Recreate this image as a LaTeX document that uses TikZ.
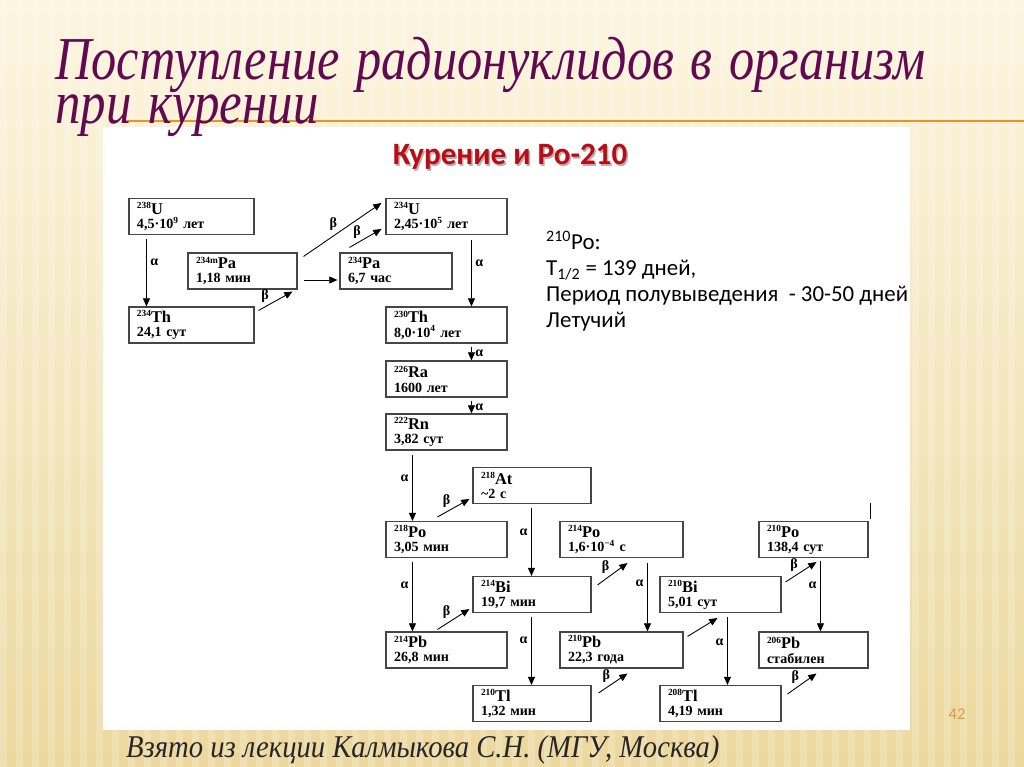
\documentclass[tikz,border=0pt]{standalone}
\usepackage{fontspec}
\setmainfont{Liberation Serif}
\newfontfamily\carlito{Carlito}
\usetikzlibrary{arrows.meta,calc}
\definecolor{titlepurple}{RGB}{98,10,80}
\definecolor{rulegold}{RGB}{228,150,42}
\definecolor{headred}{RGB}{190,10,20}
\definecolor{pagegold}{RGB}{222,150,70}
\definecolor{boxgray}{RGB}{70,70,70}
\definecolor{creamtop}{RGB}{252,245,224}
\definecolor{creambot}{RGB}{236,216,158}
\newcommand\nuc[3]{\raisebox{.42em}{\fontsize{8pt}{8pt}\selectfont #1}{\fontsize{14pt}{12pt}\selectfont #2}\\#3}

\begin{document}
\begin{tikzpicture}[x=0.03cm,y=-0.03cm,
 nucbox/.style={draw=boxgray,line width=0.9pt,minimum height=1.08cm,text width=#1,align=left,inner xsep=0.24cm,inner ysep=1pt,font=\fontsize{12pt}{12pt}\selectfont\bfseries},
 decay/.style={-{Triangle[length=7pt,width=6pt]},line width=0.75pt},
 al/.style={font=\fontsize{12pt}{12pt}\selectfont\bfseries,inner sep=3pt},
 bl/.style={above left,font=\fontsize{12pt}{12pt}\selectfont\bfseries,inner sep=1pt,pos=.45},
 infotext/.style={anchor=base west,inner sep=0pt,font=\carlito\fontsize{19.5pt}{23pt}\selectfont}]
\useasboundingbox (0,0) rectangle (1024,767);
\shade[top color=creamtop,bottom color=creambot] (0,0) rectangle (1024,767);
\foreach \x in {0,16,...,1020} \fill[white,opacity=.2] (\x,0) rectangle ++(7,767);
\fill[white] (103,127) rectangle (910,730);
\draw[rulegold,line width=2.5pt] (125,121) -- (1024,121);

\node[anchor=base west,inner sep=0pt,text width=27cm,align=left,text=titlepurple,font=\itshape\fontsize{52pt}{29.8pt}\selectfont] (title) at (55,80) {\lineskiplimit=-60pt\relax\resizebox{26.1cm}{\height}{Поступление радионуклидов в организм}\\\resizebox{7.9cm}{\height}{при курении}};

\node[anchor=base,text=black,opacity=.3,font=\carlito\bfseries\fontsize{26.5pt}{27pt}\selectfont] (heads) at (511.5,166.5) {Курение и Ро-210};
\node[anchor=base,text=headred,font=\carlito\bfseries\fontsize{26.5pt}{27pt}\selectfont] (head) at (510,165) {Курение и Ро-210};

\node[infotext] (info1) at (546,250) {\textsuperscript{210}Po:};
\node[infotext] (info2) at (546,276) {T\textsubscript{1/2} = 139 дней,};
\node[infotext] (info3) at (546,302) {Период полувыведения~~- 30-50 дней};
\node[infotext] (info4) at (546,328) {Летучий};

\node[nucbox=3.27cm] (u238) at (191.5,216.5) {\nuc{238}{U}{4,5·10\textsuperscript{9} лет}};
\node[nucbox=3.27cm] (th234) at (191.5,325) {\nuc{234}{Th}{24,1 сут}};
\node[nucbox=2.79cm] (pam234) at (242.5,271) {\nuc{234m}{Pa}{1,18 мин}};
\node[nucbox=2.88cm] (pa234) at (396,271) {\nuc{234}{Pa}{6,7 час}};
\node[nucbox=3.15cm] (u234) at (446.5,216.5) {\nuc{234}{U}{2,45·10\textsuperscript{5} лет}};
\node[nucbox=3.15cm] (th230) at (446.5,325) {\nuc{230}{Th}{8,0·10\textsuperscript{4} лет}};
\node[nucbox=3.15cm] (ra226) at (446.5,379) {\nuc{226}{Ra}{1600 лет}};
\node[nucbox=3.15cm] (rn222) at (446.5,432) {\nuc{222}{Rn}{3,82 сут}};
\node[nucbox=3.06cm] (at218) at (532,485.5) {\nuc{218}{At}{\textasciitilde2 с}};
\node[nucbox=3.15cm] (po218) at (446.5,539.5) {\nuc{218}{Po}{3,05 мин}};
\node[nucbox=3.21cm] (po214) at (621.5,539.5) {\nuc{214}{Po}{1,6·10\textsuperscript{−4} с}};
\node[nucbox=2.79cm] (po210) at (813.5,539.5) {\nuc{210}{Po}{138,4 сут}};
\node[nucbox=3.06cm] (bi214) at (532,594.5) {\nuc{214}{Bi}{19,7 мин}};
\node[nucbox=3.15cm] (bi210) at (720.5,594.5) {\nuc{210}{Bi}{5,01 сут}};
\node[nucbox=3.15cm] (pb214) at (446.5,650) {\nuc{214}{Pb}{26,8 мин}};
\node[nucbox=3.21cm] (pb210) at (621.5,650) {\nuc{210}{Pb}{22,3 года}};
\node[nucbox=2.79cm] (pb206) at (813.5,650) {\nuc{206}{Pb}{стабилен}};
\node[nucbox=3.06cm] (tl210) at (532,703.5) {\nuc{210}{Tl}{1,32 мин}};
\node[nucbox=3.15cm] (tl208) at (720.5,703.5) {\nuc{208}{Tl}{4,19 мин}};

\draw[decay] ($(u238.south west)+(18,4)$) -- node[al,right,pos=.35]{α} ($(th234.north west)+(18,0)$);
\draw[decay] ($(th234.north east)+(4,4)$) -- node[bl,pos=.35]{β} ($(pam234.south east)+(-5,2)$);
\draw[decay] ($(pam234.north east)+(6,4)$) -- node[bl]{β} ($(u234.north west)+(-4,5)$);
\draw[decay] ($(pam234.east)+(6,9)$) -- ($(pa234.west)+(-2,9)$);
\draw[decay] ($(pa234.north west)+(10,-5)$) -- node[bl,pos=.4]{β} ($(u234.south west)+(-4,-6)$);
\draw[decay] ($(u234.south west)+(86,5)$) -- node[al,right,pos=.35]{α} ($(th230.north west)+(86,0)$);
\draw[decay] ($(th230.south west)+(86,3)$) -- node[al,right]{α} ($(ra226.north west)+(86,0)$);
\draw[decay] ($(ra226.south west)+(86,3)$) -- node[al,right]{α} ($(rn222.north west)+(86,0)$);
\draw[decay] ($(rn222.south west)+(27,4)$) -- node[al,left,pos=.35]{α} ($(po218.north west)+(27,0)$);
\draw[decay] ($(po218.north west)+(52,-4)$) -- node[bl]{β} ($(at218.south west)+(-3,-5)$);
\draw[decay] ($(at218.south west)+(59,4)$) -- node[al,left,pos=.36]{α} ($(bi214.north west)+(59,0)$);
\draw[decay] ($(po218.south west)+(27,4)$) -- node[al,left,pos=.34]{α} ($(pb214.north west)+(27,0)$);
\draw[decay] ($(pb214.north west)+(52,-2)$) -- node[bl]{β} ($(bi214.south west)+(-3,-4)$);
\draw[decay] ($(bi214.south west)+(59,4)$) -- node[al,left,pos=.34]{α} ($(tl210.north west)+(59,0)$);
\draw[decay] ($(bi214.north east)+(6,9)$) -- node[bl]{β} ($(po214.south west)+(68,5)$);
\draw[decay] ($(po214.south west)+(88,5)$) -- node[al,left,pos=.3]{α} ($(pb210.north west)+(88,0)$);
\draw[decay] ($(pb210.north east)+(4,5)$) -- ($(bi210.south west)+(58,5)$);
\draw[decay] ($(tl210.north east)+(7,8)$) -- node[bl]{β} ($(pb210.south west)+(68,5)$);
\draw[decay] ($(bi210.south west)+(68,4)$) -- node[al,left,pos=.37]{α} ($(tl208.north west)+(68,0)$);
\draw[decay] ($(bi210.north east)+(4,6)$) -- node[bl]{β} ($(po210.south west)+(58,4)$);
\draw[decay] ($(po210.south west)+(62,3)$) -- node[al,left,pos=.35]{α} ($(pb206.north west)+(62,0)$);
\draw[decay] ($(tl208.north east)+(6,9)$) -- node[bl]{β} ($(pb206.south west)+(58,5)$);
\draw[line width=1.3pt] ($(po210.north east)+(2,-2)$) -- ($(po210.north east)+(2,-18)$);

\node[font=\carlito\fontsize{14pt}{14pt}\selectfont,text=pagegold] (pnum) at (957,714) {42};
\node[anchor=base west,text=black!85,font=\itshape\fontsize{27pt}{27pt}\selectfont] (credit) at (122,757) {\resizebox{17.8cm}{\height}{Взято из лекции Калмыкова С.Н. (МГУ, Москва)}};
\end{tikzpicture}
\end{document}
